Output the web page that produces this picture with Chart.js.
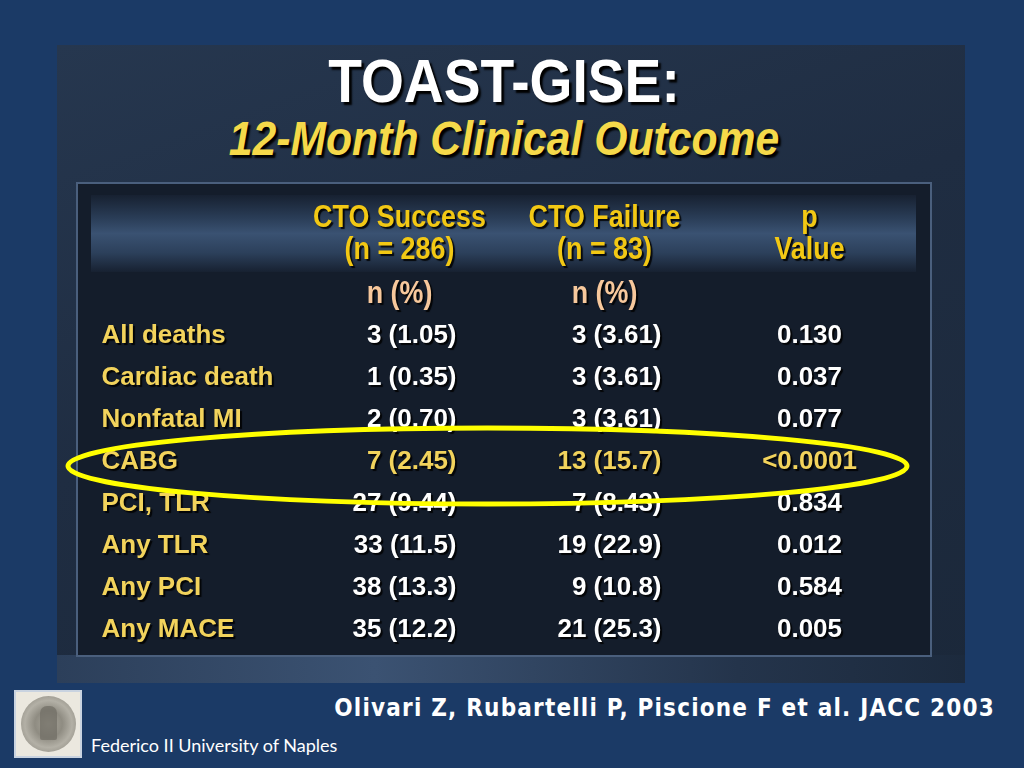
<!DOCTYPE html>
<html>
<head>
<meta charset="utf-8">
<script src="https://cdn.jsdelivr.net/npm/chart.js@4.4.1/dist/chart.umd.min.js"></script>
<style>
  html, body { margin: 0; padding: 0; }
  body { width: 1024px; height: 768px; background: #1b3a66; position: relative; overflow: hidden; }
  .panel { position: absolute; left: 57px; top: 45px; width: 908px; height: 638px;
    background: linear-gradient(160deg, #26374f 0%, #1f2d42 45%, #1b283a 100%); }
  .panel-foot { position: absolute; left: 57px; top: 655px; width: 908px; height: 28px;
    background: linear-gradient(90deg, #2c3f5a 0%, #3b5272 35%, #24344b 75%, #1c2a3d 100%); }
  .tbl { position: absolute; left: 76px; top: 182px; width: 852px; height: 471px;
    background: #141d2b; border: 2px solid #4a5f7d; }
  .band { position: absolute; left: 91px; top: 195px; width: 825px; height: 77px;
    background: linear-gradient(180deg, #172131 0%, #2a3d57 30%, #3a5272 50%, #2c405b 75%, #172131 100%); }
  .title { position: absolute; left: 0; width: 1008px; text-align: center; transform-origin: 504px 50%;
    font-family: 'Liberation Sans', Arial, sans-serif; font-weight: bold; }
  .t1 { top: 45px; font-size: 62px; color: #ffffff; text-shadow: 3px 3px 2px #000; transform: scaleX(0.89); }
  .t2 { top: 111px; font-size: 48px; color: #f5d94a; font-style: italic; text-shadow: 3px 3px 2px #000; transform: scaleX(0.89); }
  .cite { position: absolute; right: 29px; top: 694px; font-family: 'DejaVu Sans Condensed', 'DejaVu Sans', sans-serif;
    font-weight: bold; font-size: 24px; letter-spacing: 1.2px; color: #ffffff; }
  .uni { position: absolute; left: 91px; top: 734px; font-family: Lato, 'Open Sans', sans-serif; font-size: 18px; color: #ffffff; }
  .logo { position: absolute; left: 14px; top: 690px; width: 64px; height: 64px; background: #ebe8df;
    border: 2px solid #c9d3e0; }
  .seal { position: absolute; left: 5px; top: 4px; width: 55px; height: 56px; border-radius: 50%;
    background: radial-gradient(circle, #a9a69b 0%, #8f8c82 35%, #b3b0a6 60%, #8d8a80 88%, #d8d5cc 100%); }
  .seal-fig { position: absolute; left: 19px; top: 10px; width: 17px; height: 34px; border-radius: 7px 7px 2px 2px;
    background: #6f6c64; opacity: 0.7; }
  #wrap { position: absolute; left: 0; top: 0; width: 1024px; height: 768px; }
</style>
</head>
<body>
<div class="panel"></div>
<div class="panel-foot"></div>
<div class="tbl"></div>
<div class="band"></div>
<div class="title t1">TOAST-GISE:</div>
<div class="title t2">12-Month Clinical Outcome</div>
<div class="logo"><div class="seal"><div class="seal-fig"></div></div></div>
<div class="cite">Olivari Z, Rubartelli P, Piscione F et al. JACC 2003</div>
<div class="uni">Federico II University of Naples</div>
<div id="wrap"><canvas id="tableChart" width="1024" height="768"></canvas></div>

<script>
// Righe e colonne della tabella
const columns = ['Outcome', 'CTO Success', 'CTO Failure', 'p Value'];
const columnHeads = [[], ['CTO Success', '(n = 286)'], ['CTO Failure', '(n = 83)'], ['p', 'Value']];
const unitRow = 'n (%)';
const outcomes = ['All deaths', 'Cardiac death', 'Nonfatal MI', 'CABG', 'PCI, TLR', 'Any TLR', 'Any PCI', 'Any MACE'];
const successN = [3, 1, 2, 7, 27, 33, 38, 35];
const successPct = ['1.05', '0.35', '0.70', '2.45', '9.44', '11.5', '13.3', '12.2'];
const failureN = [3, 3, 3, 13, 7, 19, 9, 21];
const failurePct = ['3.61', '3.61', '3.61', '15.7', '8.43', '22.9', '10.8', '25.3'];
const pValues = ['0.130', '0.037', '0.077', '<0.0001', '0.834', '0.012', '0.584', '0.005'];
const highlighted = 'CABG';

const rows = [unitRow, ...outcomes];

// testo di ogni cella
function cellText(col, row) {
    if (row === 0) return (col === 1 || col === 2) ? unitRow : '';
    const i = row - 1;
    if (col === 0) return outcomes[i];
    if (col === 1) return `${successN[i]} (${successPct[i]})`;
    if (col === 2) return `${failureN[i]} (${failurePct[i]})`;
    return pValues[i];
}

const GOLD = '#f2d35c';
const HEAD = '#f2c814';
const PEACH = '#f7c89c';
const bodyFont = "bold 26px 'Liberation Sans', Arial, sans-serif";
const narrowFont = "bold 32px 'Liberation Sans', Arial, sans-serif";
const NARROW = 0.84;
// allineamento per colonna (offset dal centro della categoria)
const colAlign = [
    { align: 'left', dx: -93 },
    { align: 'right', dx: 57 },
    { align: 'right', dx: 57 },
    { align: 'center', dx: 0 }
];

// testo compresso in orizzontale (font narrow non disponibile)
function fillNarrow(ctx, text, x, y) {
    ctx.save();
    ctx.translate(x, y);
    ctx.scale(NARROW, 1);
    ctx.textAlign = 'center';
    ctx.fillText(text, 0, 0);
    ctx.restore();
}

const tablePlugin = {
    id: 'tablePlugin',
    afterDatasetsDraw(chart) {
        const ctx = chart.ctx;
        const area = chart.chartArea;
        const yScale = chart.scales.y;
        ctx.save();
        ctx.textBaseline = 'middle';
        ctx.shadowColor = 'rgba(0,0,0,0.85)';
        ctx.shadowOffsetX = 2;
        ctx.shadowOffsetY = 2;
        ctx.shadowBlur = 1;

        // intestazioni
        ctx.font = narrowFont;
        ctx.fillStyle = HEAD;
        columnHeads.forEach((lines, c) => {
            const x = chart.scales.x.getPixelForValue(c);
            lines.forEach((t, k) => fillNarrow(ctx, t, x, area.top - 54 + k * 32));
        });

        // celle, dalle posizioni dei punti
        chart.data.datasets.forEach((ds, c) => {
            const meta = chart.getDatasetMeta(c);
            meta.data.forEach((pt, r) => {
                const t = cellText(c, r);
                if (!t) return;
                if (r === 0) {
                    ctx.font = narrowFont;
                    ctx.fillStyle = PEACH;
                    fillNarrow(ctx, t, pt.x, pt.y + 1);
                    return;
                }
                const a = colAlign[c];
                ctx.font = bodyFont;
                ctx.textAlign = a.align;
                ctx.fillStyle = (c === 0 || outcomes[r - 1] === highlighted) ? GOLD : '#ffffff';
                ctx.fillText(t, pt.x + a.dx, pt.y + 1);
            });
        });
        ctx.restore();

        // ellisse evidenziata
        const yc = yScale.getPixelForValue(rows.indexOf(highlighted)) + 5;
        const left = area.left - 24, right = area.right - 5;
        ctx.save();
        ctx.beginPath();
        ctx.ellipse((left + right) / 2, yc, (right - left) / 2, 38, 0, 0, Math.PI * 2);
        ctx.strokeStyle = '#ffff00';
        ctx.lineWidth = 5;
        ctx.stroke();
        ctx.restore();
    }
};

new Chart(document.getElementById('tableChart'), {
    type: 'scatter',
    data: {
        datasets: columns.map((col) => ({
            label: col,
            data: rows.map(r => ({ x: col, y: r })),
            pointRadius: 0,
            pointHoverRadius: 0
        }))
    },
    options: {
        responsive: false,
        animation: false,
        layout: { padding: { left: 92, right: 112, top: 272, bottom: 118 } },
        plugins: { legend: { display: false }, tooltip: { enabled: false } },
        scales: {
            x: { type: 'category', labels: columns, offset: true, display: false },
            y: { type: 'category', labels: rows, offset: true, display: false }
        }
    },
    plugins: [tablePlugin]
});
</script>
</body>
</html>
